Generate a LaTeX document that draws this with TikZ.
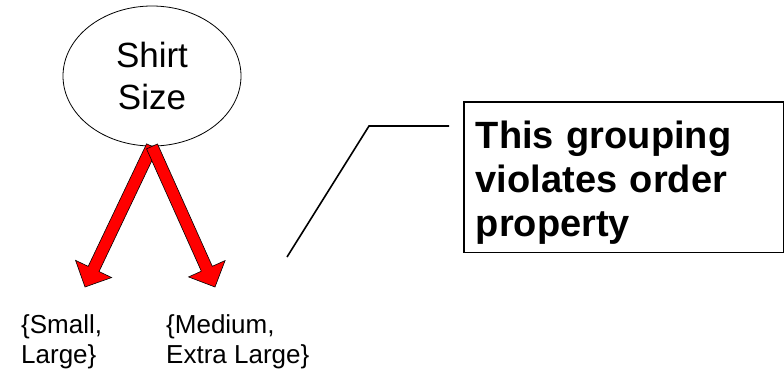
\documentclass[tikz,border=0pt]{standalone}
\usepackage{fontspec}
\setmainfont{Liberation Sans}
\usepackage{tikz}
\usetikzlibrary{shapes.geometric, arrows, positioning, calc}

% block arrow from #1 to tip #2
\newcommand{\blockarrow}[2]{%
  \path ($(#2)!20pt!(#1)$) coordinate (ba-h);
  \draw[fatarrow] ($(#1)!6pt!90:(#2)$) -- ($(ba-h)!6pt!90:(#2)$) -- ($(ba-h)!20pt!90:(#2)$)
    -- (#2) -- ($(ba-h)!20pt!-90:(#2)$) -- ($(ba-h)!6pt!-90:(#2)$) -- ($(#1)!6pt!-90:(#2)$) -- cycle;}

\begin{document}
\begin{tikzpicture}[
    x=1pt, y=1pt,
    attr/.style={ellipse, draw, line width=0.8pt, minimum width=178pt, minimum height=140pt, inner sep=0pt, align=center, font=\fontsize{35}{42}\selectfont},
    group/.style={anchor=north west, inner sep=0pt, align=left, font=\fontsize{26}{30}\selectfont},
    callbox/.style={rectangle, draw, line width=1.6pt, anchor=north west, minimum width=320pt, inner xsep=12pt, inner ysep=8pt, text width=296pt, align=left, font=\fontsize{38}{44}\selectfont\bfseries},
    fatarrow/.style={fill=red, draw=black, line width=0.6pt, line join=miter},
    callline/.style={-, line width=1.6pt}
]
    \useasboundingbox (0,0) rectangle (784,-370);

    % Attribute
    \node[attr] (size) at (152,-76) {Shirt\\Size};

    % Groups
    \node[group] (small) at (21,-314) {\{Small,\\Large\}};
    \node[group] (medium) at (166,-314) {\{Medium,\\Extra Large\}};

    % Arrow tips
    \coordinate (tipL) at (85,-287);
    \coordinate (tipR) at (215,-287);

    % Split arrows
    \blockarrow{size.south}{tipL}
    \blockarrow{size.south}{tipR}

    % Callout
    \node[callbox] (note) at (463,-101) {\rule{0pt}{39pt}This grouping violates order property};
    \coordinate (calltip) at (287,-257);
    \coordinate (knee) at (369,-126);
    \coordinate (callend) at ($(note.north west)+(-14,-25)$);
    \draw[callline] (calltip) -- (knee) -- (callend);

\end{tikzpicture}
\end{document}
